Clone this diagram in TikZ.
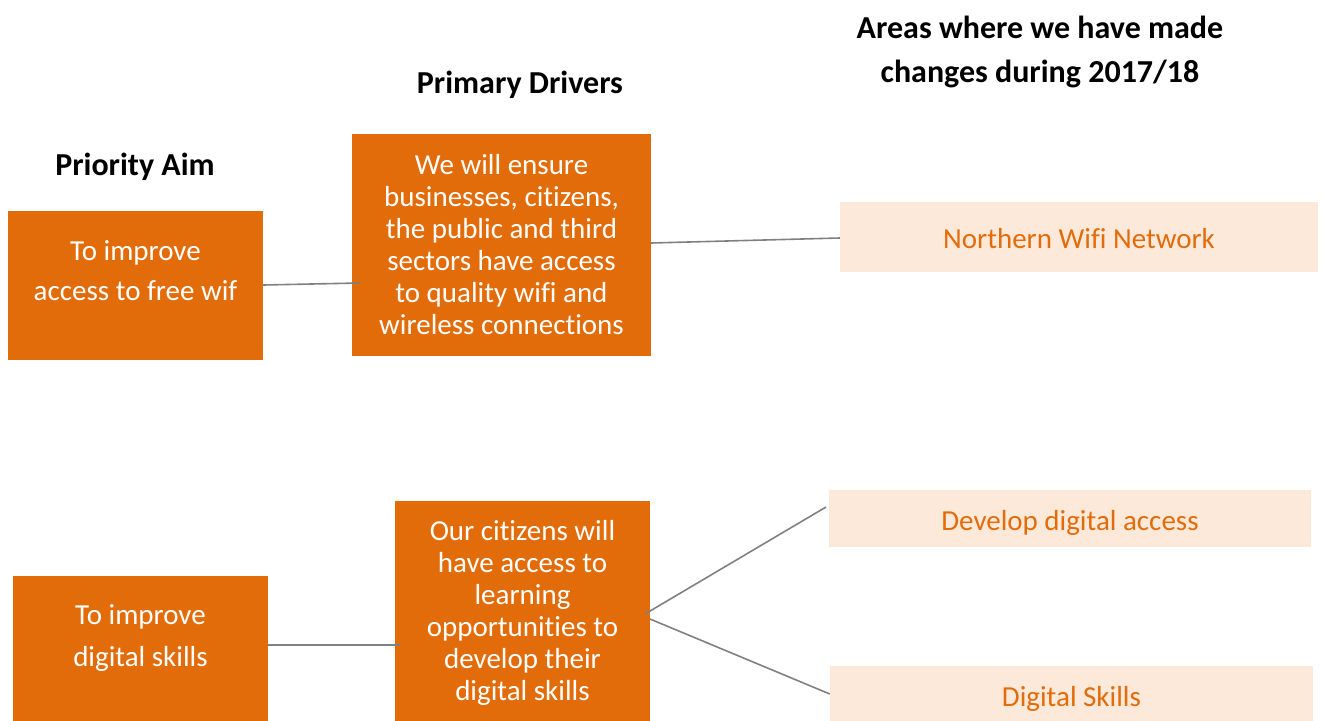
\documentclass[tikz,border=0pt]{standalone}
\usepackage{fontspec}
\setmainfont[Ligatures=NoCommon]{Carlito}
\definecolor{org}{HTML}{E36C0A}
\definecolor{lightorg}{HTML}{FDE9D9}
\definecolor{lgray}{HTML}{808080}
\begin{document}
\begin{tikzpicture}[x=1pt,y=-1pt,
  aimbox/.style={fill=org,text=white,inner sep=0pt,align=center,font=\fontsize{29}{32}\selectfont},
  aimtext/.style={text=white,align=center},
  areabox/.style={fill=lightorg,inner sep=0pt},
  arealabel/.style={text=org,inner sep=0pt,font=\fontsize{29}{32}\selectfont},
  head/.style={align=center,font=\bfseries\fontsize{32}{44}\selectfont},
  conn/.style={draw=lgray,line width=1.6pt}]
\useasboundingbox (0,0) rectangle (1322,720);
% headings
\node[head] (h1) at (135,167) {Priority Aim};
\node[head] (h2) at (520,85) {Primary Drivers};
\node[head] (h3) at (1040,51.5) {Areas where we have made\\changes during 2017/18};
% boxes
\node[aimbox,minimum width=255pt,minimum height=149pt] (a1) at (135.5,285.5) {};
\node[aimtext,font=\fontsize{29}{40}\selectfont] (a1t) at (135.5,270.5) {To improve\\access to free wif};
\node[aimbox,minimum width=299pt,minimum height=222pt] (p1) at (501.5,245) {We will ensure\\businesses, citizens,\\the public and third\\sectors have access\\to quality wifi and\\wireless connections};
\node[areabox,minimum width=478pt,minimum height=70pt,
  label={[arealabel,yshift=-2pt]center:Northern Wifi Network}] (n1) at (1079,237) {};
\node[aimbox,minimum width=255pt,minimum height=148pt] (a2) at (140.5,650) {};
\node[aimtext,font=\fontsize{29}{42}\selectfont] (a2t) at (140.5,638) {To improve\\digital skills};
\node[aimbox,minimum width=255pt,minimum height=224pt] (p2) at (522.5,613) {Our citizens will\\have access to\\learning\\opportunities to\\develop their\\digital skills};
\node[areabox,minimum width=482pt,minimum height=57pt,
  label={[arealabel,yshift=-4pt]center:Develop digital access}] (d1) at (1070,518.5) {};
\node[areabox,minimum width=483pt,minimum height=60pt,
  label={[arealabel,yshift=-3pt]center:Digital Skills}] (d2) at (1071.5,696) {};
% connectors
\coordinate (p1in) at (360,283);
\coordinate (p2in) at (400,645);
\coordinate (d1in) at (826,507);
\draw[conn] (a1.east |- 0,285) -- (p1in);
\draw[conn] (p1.east |- 0,243) -- (n1.west |- 0,238);
\draw[conn] (a2.east |- 0,645) -- (p2in);
\draw[conn] (645,614) -- (d1in);
\draw[conn] (650,619) -- (d2.west |- 0,694);
\end{tikzpicture}
\end{document}
